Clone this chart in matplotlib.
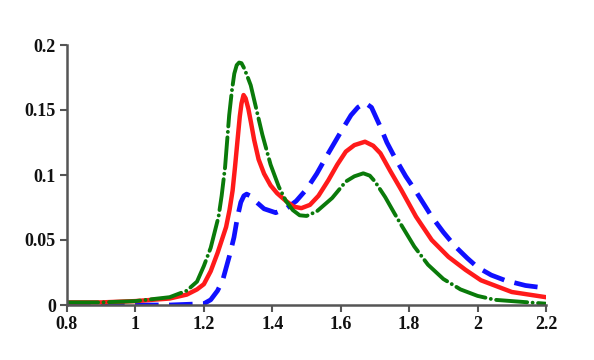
import matplotlib
matplotlib.use("Agg")
import matplotlib.pyplot as plt

# ---- data ----
x_blue = [0.8, 1.0, 1.1, 1.2, 1.22, 1.24, 1.255, 1.275, 1.288, 1.2985, 1.308, 1.317, 1.325,
          1.335, 1.35, 1.376, 1.41, 1.443, 1.47, 1.50, 1.53, 1.56, 1.60, 1.63, 1.65, 1.671,
          1.69, 1.716, 1.735, 1.757, 1.79, 1.817, 1.866, 1.90, 1.935, 1.97, 2.0, 2.04, 2.08,
          2.14, 2.2]
y_blue = [0.000, 0.000, 0.000, 0.001, 0.004, 0.011, 0.019, 0.038, 0.052, 0.068, 0.079, 0.084, 0.0853,
          0.084, 0.080, 0.074, 0.071, 0.0746, 0.080, 0.089, 0.101, 0.115, 0.133, 0.146, 0.152, 0.1556,
          0.152, 0.137, 0.125, 0.114, 0.099, 0.0885, 0.068, 0.056, 0.045, 0.036, 0.029, 0.023, 0.019,
          0.015, 0.013]

x_red = [0.8, 0.9, 1.0, 1.1, 1.15, 1.18, 1.20, 1.22, 1.24, 1.265, 1.275, 1.284, 1.291, 1.2985,
         1.305, 1.31, 1.316, 1.322, 1.33, 1.338, 1.347, 1.36, 1.376, 1.395, 1.414, 1.44, 1.463,
         1.485, 1.51, 1.535, 1.564, 1.59, 1.615, 1.64, 1.671, 1.695, 1.716, 1.745, 1.777, 1.82,
         1.866, 1.915, 1.965, 2.01, 2.06, 2.1, 2.15, 2.2]
y_red = [0.002, 0.002, 0.003, 0.005, 0.008, 0.012, 0.016, 0.026, 0.040, 0.060, 0.073, 0.088, 0.106, 0.127,
         0.145, 0.155, 0.1615, 0.159, 0.151, 0.140, 0.127, 0.112, 0.101, 0.092, 0.086, 0.080, 0.0756,
         0.0745, 0.077, 0.084, 0.096, 0.108, 0.118, 0.123, 0.1256, 0.1225, 0.1167, 0.103, 0.0885, 0.068,
         0.050, 0.037, 0.027, 0.019, 0.014, 0.010, 0.008, 0.006]

x_green = [0.8, 0.9, 1.0, 1.1, 1.15, 1.18, 1.20, 1.22, 1.243, 1.252, 1.262, 1.268, 1.274, 1.282,
           1.289, 1.296, 1.303, 1.31, 1.318, 1.327, 1.337, 1.354, 1.371, 1.395, 1.419, 1.44,
           1.46, 1.48, 1.50, 1.53, 1.575, 1.615, 1.64, 1.666, 1.685, 1.70, 1.73, 1.757, 1.776,
           1.815, 1.855, 1.90, 1.95, 2.0, 2.05, 2.1, 2.15, 2.2]
y_green = [0.002, 0.002, 0.003, 0.006, 0.011, 0.018, 0.030, 0.044, 0.068, 0.084, 0.106, 0.126, 0.146, 0.165,
           0.178, 0.1845, 0.1865, 0.186, 0.182, 0.176, 0.169, 0.150, 0.131, 0.108, 0.091, 0.080,
           0.073, 0.069, 0.0685, 0.072, 0.0823, 0.095, 0.099, 0.1013, 0.0995, 0.095, 0.083, 0.0705, 0.062,
           0.045, 0.031, 0.020, 0.012, 0.007, 0.004, 0.003, 0.002, 0.001]

x_ticks = [0.8, 1.0, 1.2, 1.4, 1.6, 1.8, 2.0, 2.2]
x_tick_labels = ["0.8", "1", "1.2", "1.4", "1.6", "1.8", "2", "2.2"]
y_ticks = [0, 0.05, 0.1, 0.15, 0.2]
y_tick_labels = ["0", "0.05", "0.1", "0.15", "0.2"]

# ---- figure ----
fig = plt.figure(figsize=(5.94, 3.60), dpi=100)
ax = fig.add_axes([67/594, 55/360, (546-67)/594, (305-45)/360])

ax.plot(x_blue, y_blue, color="#1010ff", lw=3.4, dashes=(5, 2.2), solid_capstyle="butt",
        solid_joinstyle="round")
ax.plot(x_red, y_red, color="#ff1a1a", lw=3.2, solid_joinstyle="round")
ax.plot(x_green, y_green, color="#0a7a0a", lw=2.8, dashes=(8, 1.4, 0.01, 1.4),
        dash_capstyle="round", dash_joinstyle="round")

ax.set_xlim(0.8, 2.2)
ax.set_ylim(0, 0.2)
ax.set_xticks(x_ticks)
ax.set_xticklabels(x_tick_labels)
ax.set_yticks(y_ticks)
ax.set_yticklabels(y_tick_labels)

for s in ["top", "right"]:
    ax.spines[s].set_visible(False)
for s in ["left", "bottom"]:
    ax.spines[s].set_color("#555555")
    ax.spines[s].set_linewidth(1.8)
ax.tick_params(direction="out", length=5, width=1.5, color="#555555", pad=3)
for lab in ax.get_xticklabels() + ax.get_yticklabels():
    lab.set_fontfamily("Liberation Serif")
    lab.set_fontweight("bold")
    lab.set_fontsize(13)
    lab.set_color("#111111")

fig.savefig("out.png", dpi=100)
